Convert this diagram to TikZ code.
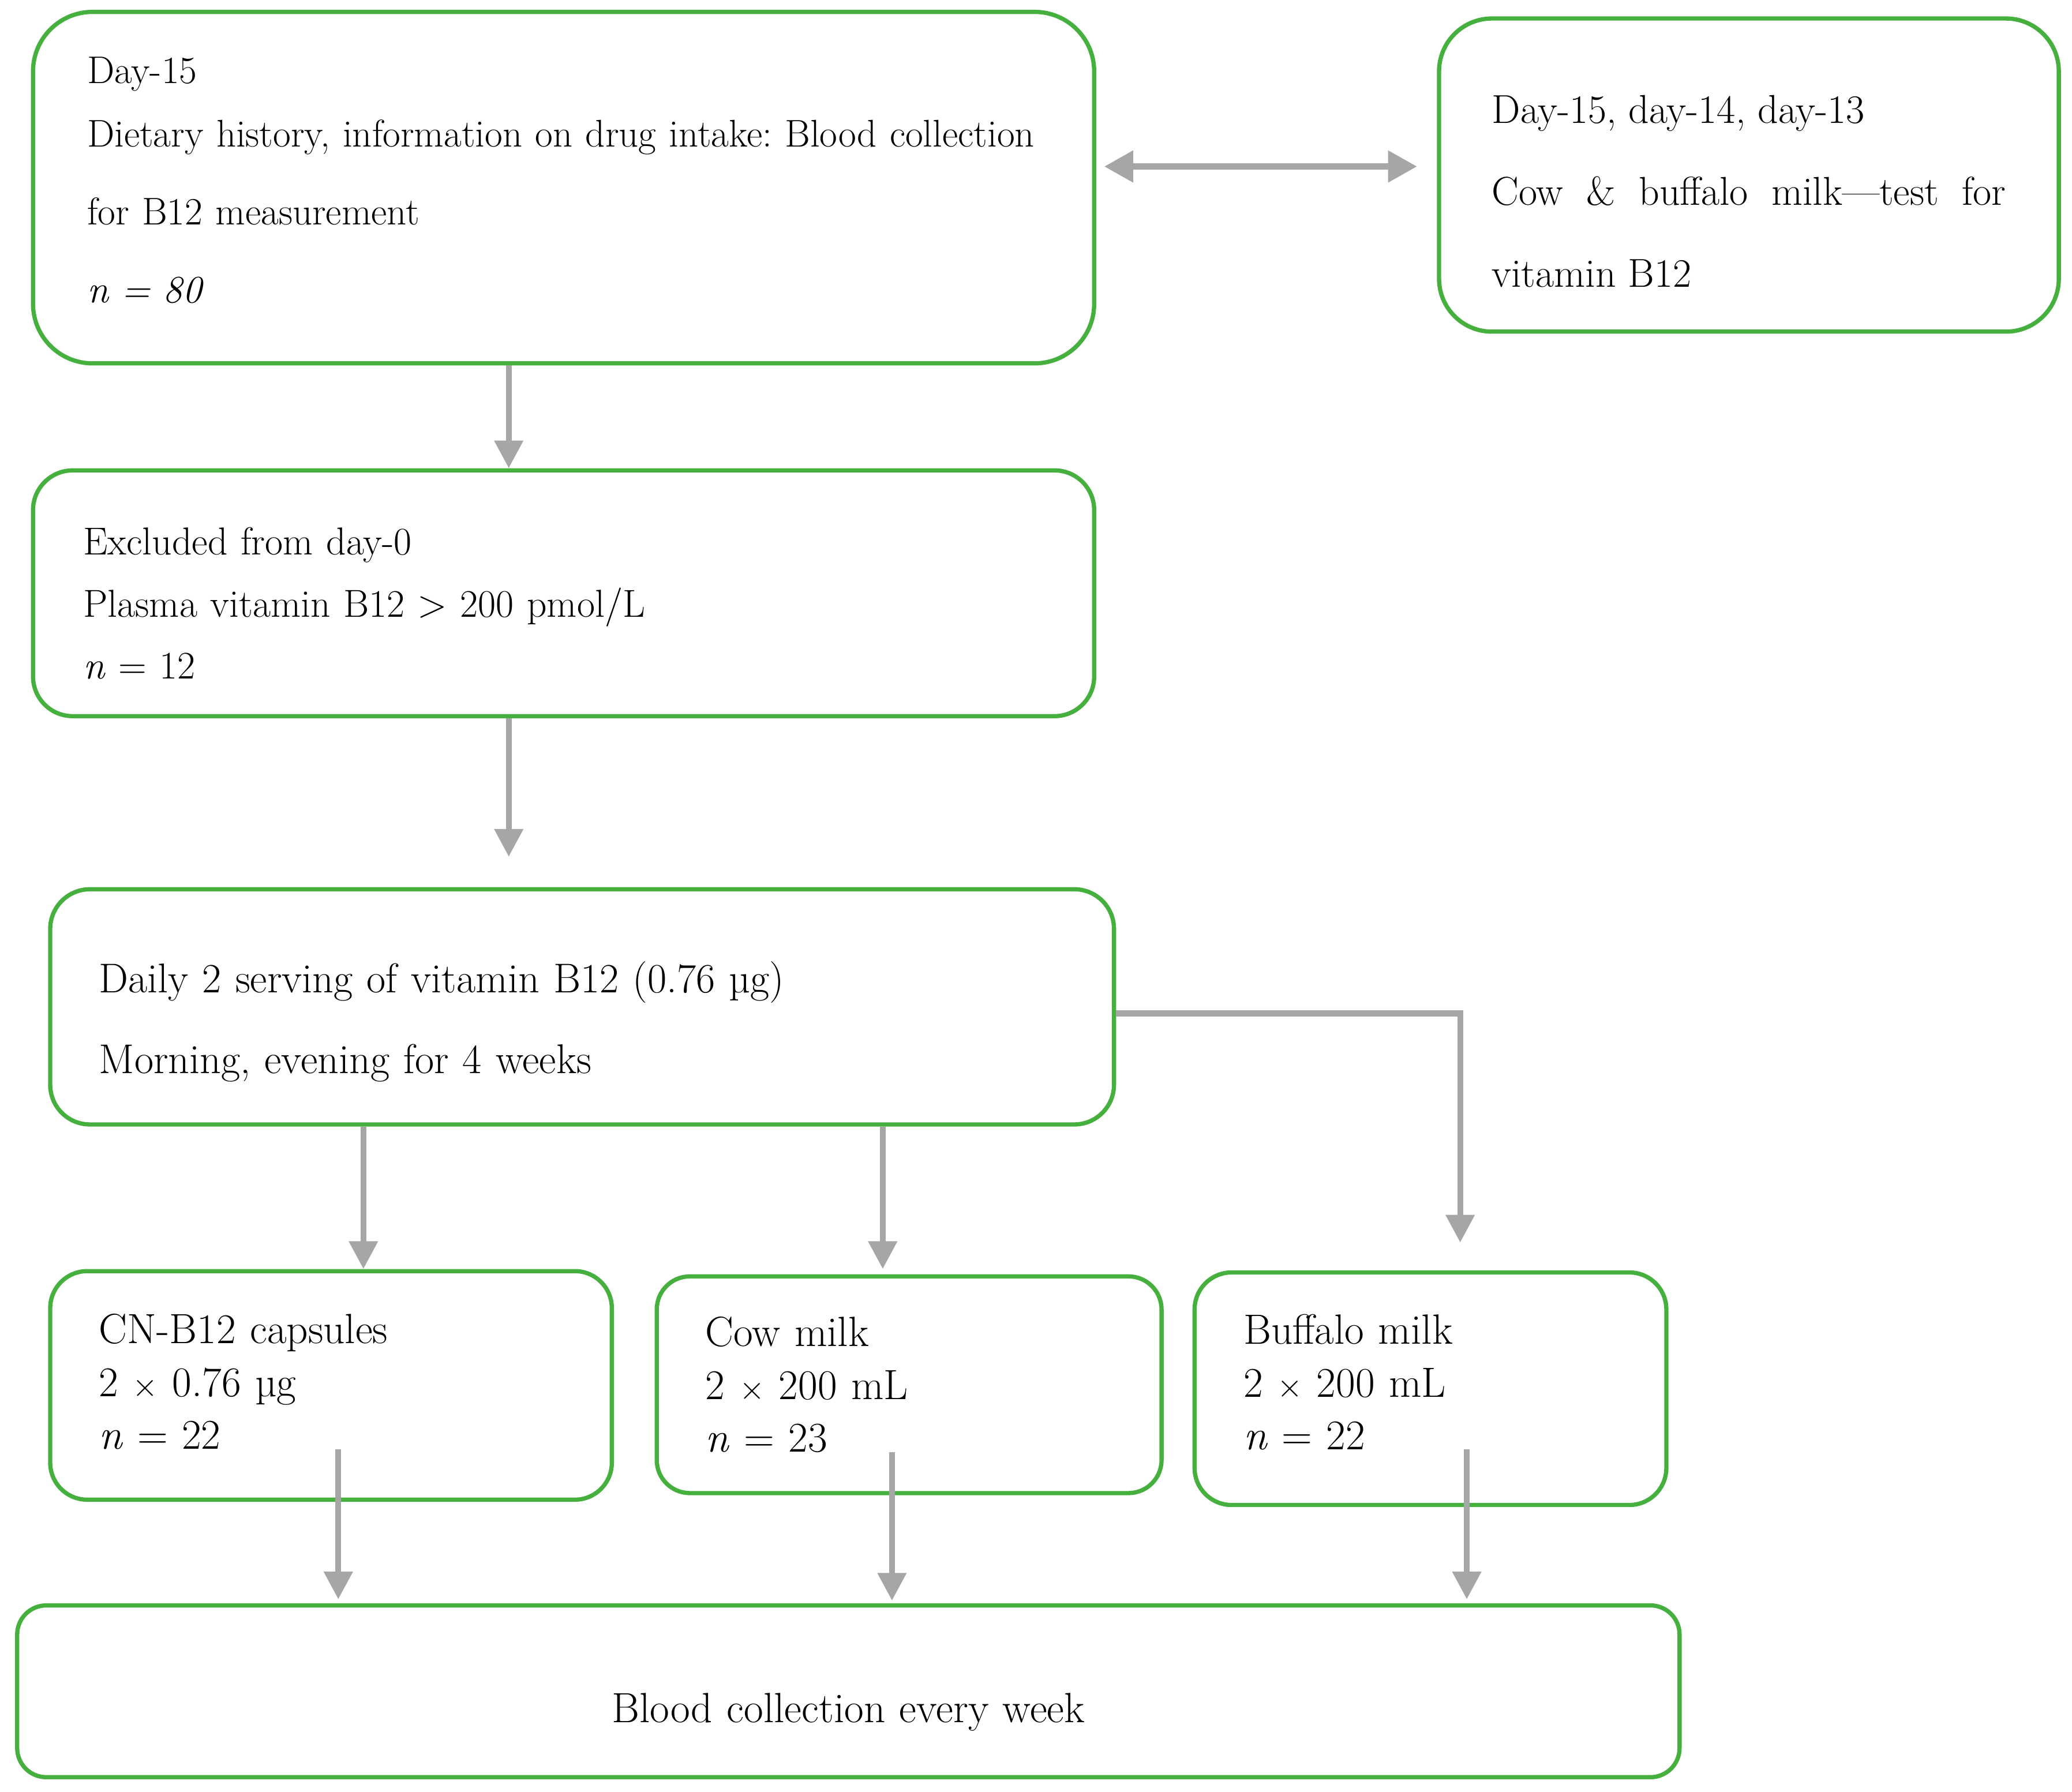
\documentclass[tikz,border=0pt]{standalone}
\usepackage{fontspec}
\usetikzlibrary{arrows.meta}
\definecolor{boxgreen}{RGB}{69,176,62}
\definecolor{arrowgray}{RGB}{166,166,166}
\frenchspacing

\begin{document}
\begin{tikzpicture}[x=1pt,y=-1pt]
\tikzset{
block/.style={rectangle,rounded corners=30pt,draw=boxgreen,line width=3.2pt,align=left,inner xsep=0pt,inner ysep=0pt,font=\fontsize{32}{40}\selectfont},
myarrow/.style={-{Triangle[length=21pt,width=21pt]}, color=arrowgray, line width=4.5pt},
mydoublearrow/.style={{Triangle[length=22pt,width=23pt]}-{Triangle[length=22pt,width=23pt]}, color=arrowgray, line width=5pt},
}
\useasboundingbox (0,0) rectangle (1568,1356);

\node [block, rounded corners=45pt, minimum width=803pt, minimum height=266pt, text width=721pt, font=\fontsize{29.2}{59}\selectfont] (screening) at (426.5,142)
  {Day-15\\[-11pt] Dietary history, information on drug intake: Blood collection\\ for B12 measurement\\ \textit{n = 80}\rule[-12pt]{0pt}{12pt}};
\node [block, rounded corners=40pt, minimum width=469pt, minimum height=237pt, text width=389pt, align=justify, font=\fontsize{30.5}{62}\selectfont] (milktest) at (1323.5,132.5)
  {\rule{0pt}{46pt}Day-15, day-14, day-13\\ Cow \& buffalo milk---test for \mbox{vitamin} B12};
\node [block, minimum width=803pt, minimum height=186pt, text width=727pt, font=\fontsize{29.5}{47}\selectfont] (excluded) at (426.5,449)
  {\rule{0pt}{36pt}Excluded from day-0\\ Plasma vitamin B12 > 200 pmol/L\\ \textit{n} = 12};
\node [block, minimum width=805pt, minimum height=178pt, text width=731pt, font=\fontsize{31.5}{61}\selectfont] (daily) at (440.5,762)
  {\rule{0pt}{46pt}Daily 2 serving of vitamin B12 (0.76 µg)\\ Morning, evening for 4 weeks};
\node [block, rounded corners=28pt, minimum width=425pt, minimum height=173pt, text width=351pt] (capsules) at (250.5,1048.5)
  {CN-B12 capsules\\ 2 $\times$ 0.76 µg\\ \textit{n} = 22\rule[-6pt]{0pt}{6pt}};
\node [block, rounded corners=25pt, minimum width=382pt, minimum height=164pt, text width=308pt] (cowmilk) at (688,1048)
  {Cow milk\\ 2 $\times$ 200 mL\\ \textit{n} = 23};
\node [block, rounded corners=28pt, minimum width=357pt, minimum height=176pt, text width=283pt] (buffalo) at (1082.5,1051)
  {Buffalo milk\\ 2 $\times$ 200 mL\\ \textit{n} = 22\rule[-10pt]{0pt}{10pt}};
\node [block, rounded corners=22pt, minimum width=1258pt, minimum height=130pt, text width=1100pt, align=center] (weekly) at (642,1280)
  {\rule{0pt}{54pt}Blood collection every week};

\draw[mydoublearrow] ([xshift=6pt,yshift=16pt]screening.east) -- ([xshift=-15pt,yshift=6.5pt]milktest.west);
\draw[myarrow] ([xshift=-41.5pt]screening.south) -- ([xshift=-41.5pt]excluded.north);
\draw[myarrow] ([xshift=-41.5pt]excluded.south) -- ([xshift=-55.5pt,yshift=23pt]daily.north);
\draw[myarrow] ([xshift=-165.5pt]daily.south) -- ([xshift=24.5pt]capsules.north);
\draw[myarrow] ([xshift=227.5pt]daily.south) -- ([xshift=-20pt,yshift=4pt]cowmilk.north);
\draw[myarrow] ([yshift=-5pt]daily.east) -| ([xshift=22.5pt,yshift=21pt]buffalo.north);
\draw[myarrow] ([xshift=5.5pt,yshift=-48.5pt]capsules.center) coordinate (c1) -- ([yshift=3pt]weekly.north -| c1);
\draw[myarrow] ([xshift=-13pt,yshift=-51pt]cowmilk.center) coordinate (c2) -- ([yshift=2pt]weekly.north -| c2);
\draw[myarrow] ([xshift=27.5pt,yshift=-46pt]buffalo.center) coordinate (c3) -- ([yshift=3pt]weekly.north -| c3);
\end{tikzpicture}
\end{document}
